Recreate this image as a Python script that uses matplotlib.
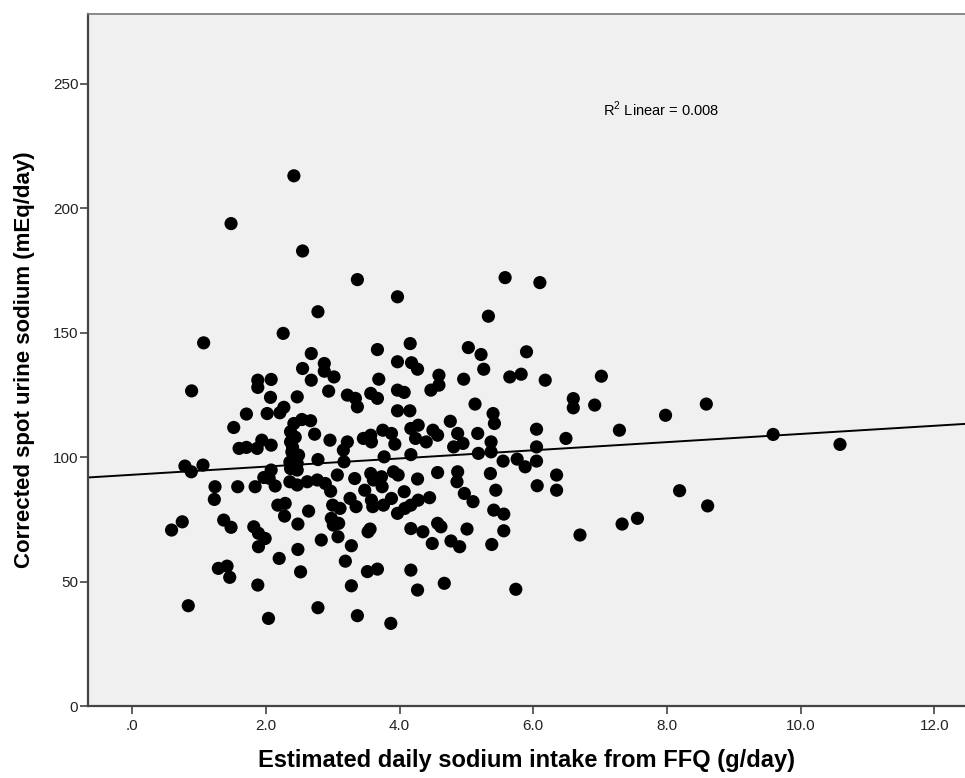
import numpy as np
import matplotlib
matplotlib.use("Agg")
import matplotlib.pyplot as plt
from matplotlib.ticker import FuncFormatter

plt.rcParams['font.family'] = ['Liberation Sans', 'DejaVu Sans']

# estimated daily sodium intake from FFQ (g/day), corrected spot urine sodium (mEq/day)
intake = [
    2.42, 1.48, 2.55, 2.26, 1.07, 0.89, 1.88, 1.88, 2.08, 2.07, 2.47, 2.55,
    1.71, 2.02, 2.21, 2.27, 1.52, 1.60, 1.71, 1.87, 1.94, 2.08,
    0.79, 0.885, 1.06, 1.24, 1.58, 1.84, 1.23,
    1.97, 2.08, 2.05, 2.14, 2.36, 2.47, 2.18, 2.29, 2.28,
    0.75, 0.59, 1.37, 1.48, 1.82, 1.89, 1.99, 1.89,
    2.48, 2.48, 2.20, 2.52, 1.29, 1.42, 1.46, 1.88, 0.84, 2.04,
    3.37, 3.97, 2.78, 5.33, 4.16, 3.67, 5.03, 2.68, 5.22, 3.97, 4.18, 4.27,
    2.875, 2.875, 3.02, 2.68, 3.69, 4.59, 4.59, 4.47, 4.96, 5.26, 2.94,
    3.22, 3.34, 3.37, 3.57, 3.67, 3.97, 4.07, 3.97, 4.155, 5.13, 5.40, 5.42,
    2.42, 2.54, 2.67, 2.37, 2.37, 2.39, 2.49, 2.40, 2.36, 2.44,
    2.73, 2.96, 3.22, 3.16, 3.46, 3.57, 3.58, 3.75, 3.88, 3.93, 4.17, 4.28,
    4.24, 4.40, 4.50, 4.57, 4.76, 4.87, 4.95, 4.81, 5.17, 5.37, 5.18, 5.37,
    2.78, 3.77, 4.17, 2.47, 2.37, 2.47, 3.17,
    2.62, 2.77, 2.89, 2.97, 3.07, 3.33, 3.57, 3.61, 3.73, 3.74, 3.91, 3.98,
    4.27, 4.57, 4.87, 4.86, 5.36,
    2.64, 3.00, 3.11, 3.26, 3.35, 2.98, 3.01, 3.09, 3.58, 3.60, 3.76, 3.88,
    3.97, 4.08, 4.17, 4.28, 4.45, 4.07, 3.48, 5.10, 4.97, 5.41, 5.44,
    3.53, 3.56, 2.83, 3.08, 3.28, 4.17, 4.35, 4.57, 4.62, 5.01, 4.49, 4.77,
    4.90, 5.38, 3.19, 3.52, 3.67, 4.17, 3.28, 4.27, 4.67, 2.78, 3.37, 3.87,
    5.58, 6.10, 5.90, 5.65, 5.82, 6.18, 7.02, 6.60, 6.60, 6.92, 8.59, 7.98,
    6.05, 7.29, 6.49, 6.05,
    5.55, 5.76, 5.88, 6.05, 6.35, 6.06, 6.35, 8.19, 8.61, 5.56, 5.56, 6.70,
    7.33, 7.56, 5.74,
    9.59, 10.59,
]
urine_na = [
    213, 193.8, 182.8, 149.7, 145.9, 126.6, 130.9, 128, 131.2, 124, 124.2, 135.6,
    117.3, 117.5, 117.8, 120, 111.9, 103.5, 103.9, 103.5, 106.8, 104.8,
    96.4, 94.1, 96.8, 88.1, 88.1, 88.1, 83,
    91.8, 94.8, 91.5, 88.4, 90.1, 88.8, 80.7, 81.4, 76.3,
    74, 70.7, 74.7, 71.8, 72, 69.4, 67.3, 64,
    73.1, 62.9, 59.3, 53.9, 55.3, 56.2, 51.7, 48.6, 40.3, 35.2,
    171.3, 164.4, 158.4, 156.6, 145.6, 143.2, 144, 141.6, 141.2, 138.3, 137.9, 135.3,
    137.6, 134.5, 132.2, 130.9, 131.3, 132.9, 128.9, 126.9, 131.3, 135.3, 126.5,
    124.9, 123.6, 120.2, 125.6, 123.6, 126.9, 126, 118.6, 118.6, 121.3, 117.5, 113.5,
    113.5, 115.1, 114.6, 110.2, 106.1, 102.1, 100.8, 104, 98, 108,
    109.2, 106.8, 106.1, 102.8, 107.5, 108.8, 106.1, 110.8, 109.5, 105.2, 111.5, 112.8,
    107.5, 106.1, 110.8, 108.8, 114.4, 109.5, 105.5, 104.1, 109.5, 106.1, 101.5, 102.1,
    99, 100.1, 101, 97.5, 95.4, 94.8, 98.1,
    90.1, 90.8, 89.4, 86.3, 92.8, 91.4, 93.4, 90.8, 92.1, 88.1, 94.1, 92.8,
    91.2, 93.8, 94.1, 90.1, 93.4,
    78.3, 80.7, 79.4, 83.4, 80.1, 75.4, 72.7, 73.4, 82.7, 80.1, 80.7, 83.4,
    77.4, 79.4, 80.7, 82.7, 83.7, 86.1, 86.7, 82.1, 85.4, 78.7, 86.7,
    70, 71.1, 66.7, 68, 64.4, 71.3, 70, 73.4, 72, 71.1, 65.3, 66.3,
    64, 64.9, 58.2, 54, 55, 54.6, 48.3, 46.6, 49.3, 39.5, 36.3, 33.2,
    172.1, 170.1, 142.3, 132.2, 133.3, 130.9, 132.5, 123.5, 119.8, 120.9, 121.3, 116.8,
    111.2, 110.8, 107.5, 104.1,
    98.4, 99.2, 96.1, 98.4, 92.8, 88.5, 86.7, 86.5, 80.4, 77.1, 70.4, 68.7,
    73.1, 75.4, 46.9,
    109.1, 105.1,
]

# linear fit
fit_intercept = 92.9
fit_slope = 1.64
r2_text = r'R$^{\mathregular{2}}$ Linear = 0.008'

x_ticks = [0, 2, 4, 6, 8, 10, 12]
y_ticks = [0, 50, 100, 150, 200, 250]

fig = plt.figure(figsize=(9.65, 7.78), dpi=100)
ax = fig.add_axes([0.0912, 0.0925, 0.9088, 0.8895])
ax.set_facecolor('#f0f0f0')

ax.scatter(intake, urine_na, s=90, color='black', edgecolors='none', zorder=3)

xlim = (-0.66, 12.46)
xs = np.array(xlim)
ax.plot(xs, fit_intercept + fit_slope * xs, color='black', lw=1.4, zorder=2)

ax.set_xlim(*xlim)
ax.set_ylim(0, 278)
ax.set_xticks(x_ticks)
ax.set_yticks(y_ticks)

def xfmt(v, pos):
    s = '%.1f' % v
    return s[1:] if s.startswith('0') else s

ax.xaxis.set_major_formatter(FuncFormatter(xfmt))
ax.tick_params(axis='both', direction='out', labelsize=11, colors='#444444',
               labelcolor='#222222', width=1.2)
ax.tick_params(axis='x', length=6, pad=3)
ax.tick_params(axis='y', length=6, pad=1)

for side in ['left', 'bottom', 'top']:
    ax.spines[side].set_color('#444444')
    ax.spines[side].set_linewidth(1.6)
ax.spines['top'].set_color('#777777')
ax.spines['top'].set_linewidth(1.2)
ax.spines['right'].set_visible(False)

ax.text(7.05, 239.8, r2_text, fontsize=10.5, va='center', ha='left')

ax.set_xlabel('Estimated daily sodium intake from FFQ (g/day)', fontsize=17,
              fontweight='bold', labelpad=12)
ax.set_ylabel('Corrected spot urine sodium (mEq/day)', fontsize=16,
              fontweight='bold', labelpad=13)

fig.savefig('out.png', dpi=100)
